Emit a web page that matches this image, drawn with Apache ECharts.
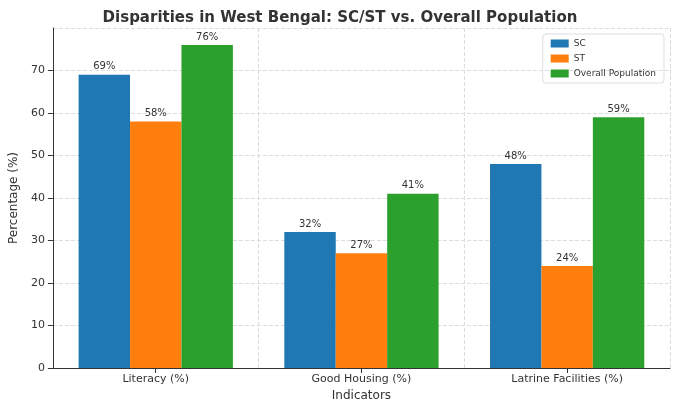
<!DOCTYPE html>
<html>
<head>
<meta charset="utf-8">
<script src="https://cdn.jsdelivr.net/npm/echarts@6/dist/echarts.min.js"></script>
<style>html,body{margin:0;padding:0;background:#fff}#chart{width:680px;height:408px}</style>
</head>
<body>
<div id="chart"></div>
<script>
var categories = ['Literacy (%)', 'Good Housing (%)', 'Latrine Facilities (%)'];
var scValues = [69, 32, 48];
var stValues = [58, 27, 24];
var overallValues = [76, 41, 59];

var chart = echarts.init(document.getElementById('chart'));

function barSeries(name, data, color) {
  return {
    name: name,
    type: 'bar',
    data: data,
    barGap: '0%',
    barCategoryGap: '25%',
    itemStyle: { color: color },
    label: { show: true, position: 'top', formatter: '{c}%', color: '#333', fontSize: 10, distance: 3 }
  };
}

var option = {
  textStyle: { fontFamily: 'DejaVu Sans' },
  title: {
    text: 'Disparities in West Bengal: SC/ST vs. Overall Population',
    left: 'center', top: 6,
    textStyle: { fontSize: 15, fontWeight: 'bold', color: '#333' }
  },
  legend: {
    orient: 'vertical', right: 16, top: 34,
    itemWidth: 18, itemHeight: 8, itemGap: 6,
    icon: 'rect',
    textStyle: { fontSize: 9, color: '#333' },
    borderColor: '#ddd', borderWidth: 1, padding: [5, 8], borderRadius: 3
  },
  grid: { left: 42, right: 10, top: 28, bottom: 40 },
  xAxis: {
    type: 'category',
    data: categories,
    name: 'Indicators', nameLocation: 'middle', nameGap: 16,
    nameTextStyle: { fontSize: 12, color: '#333' },
    axisLine: { lineStyle: { color: '#333' } },
    axisTick: { show: true, alignWithLabel: true },
    axisLabel: { fontSize: 11, color: '#333', margin: 6 },
    splitLine: { show: true, interval: 0, lineStyle: { color: '#ddd', type: 'dashed' } }
  },
  yAxis: {
    type: 'value', min: 0, max: 80, interval: 10,
    name: 'Percentage (%)', nameLocation: 'middle', nameGap: 26,
    nameTextStyle: { fontSize: 12, color: '#333' },
    axisLine: { show: true, lineStyle: { color: '#333' } },
    axisTick: { show: true },
    axisLabel: { fontSize: 11, color: '#333', showMaxLabel: false },
    splitLine: { lineStyle: { color: '#ddd', type: 'dashed' } }
  },
  series: [
    barSeries('SC', scValues, '#1f77b4'),
    barSeries('ST', stValues, '#ff7f0e'),
    barSeries('Overall Population', overallValues, '#2ca02c')
  ]
};

chart.setOption(option);
</script>
</body>
</html>
